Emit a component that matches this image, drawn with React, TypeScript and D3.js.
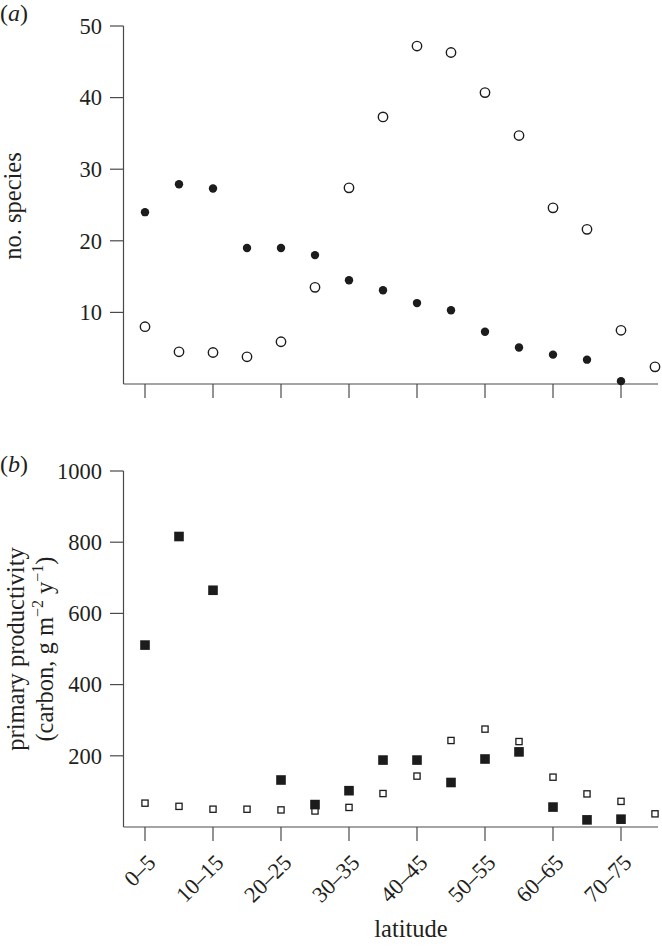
import React from "react";
import * as d3 from "d3";

const latitudes = [
  "0–5", "5–10", "10–15", "15–20", "20–25", "25–30", "30–35", "35–40",
  "40–45", "45–50", "50–55", "55–60", "60–65", "65–70", "70–75", "75–80",
];
const tickedLatitudes = ["0–5", "10–15", "20–25", "30–35", "40–45", "50–55", "60–65", "70–75"];

// panel (a): number of species
const speciesOpen: (number | null)[] = [8, 4.5, 4.4, 3.8, 5.9, 13.5, 27.4, 37.3, 47.2, 46.3, 40.7, 34.7, 24.6, 21.6, 7.5, 2.4];
const speciesFilled: (number | null)[] = [24, 27.9, 27.3, 19, 19, 18, 14.5, 13.1, 11.3, 10.3, 7.3, 5.1, 4.1, 3.4, 0.4, null];
const speciesTicks = [10, 20, 30, 40, 50];

// panel (b): primary productivity
const prodFilled: (number | null)[] = [511, 816, 665, null, 132, 63, 102, 188, 188, 125, 191, 211, 56, 20, 22, null];
const prodOpen: (number | null)[] = [67, 58, 50, 50, 48, 45, 55, 94, 143, 243, 275, 240, 140, 93, 72, 37];
const prodTicks = [200, 400, 600, 800, 1000];

const FONT = "'Liberation Serif', 'Times New Roman', serif";
const TEXT = "#231f20";
const AXIS = "#4a4a4a";
const FS_TICK = 22.5;
const FS_TITLE = 24.5;

export default function App() {
  const x = d3.scalePoint<string>().domain(latitudes).range([145, 655]);
  const yA = d3.scaleLinear().domain([0, 50]).range([384, 26]);
  const yB = d3.scaleLinear().domain([0, 1000]).range([827, 471]);
  const axisLeft = 123.5;
  const axisRight = 658;

  const yAxis = (y: d3.ScaleLinear<number, number>, ticks: number[], key: string) => (
    <g key={key}>
      <line x1={axisLeft} x2={axisLeft} y1={y(y.domain()[1])} y2={y(0)} stroke={AXIS} strokeWidth={1.2} />
      {ticks.map((t) => (
        <g key={t}>
          <line x1={110} x2={axisLeft} y1={y(t)} y2={y(t)} stroke={AXIS} strokeWidth={1.2} />
          <text x={102} y={y(t)} dy="0.35em" textAnchor="end" fontSize={FS_TICK} fill={TEXT} fontFamily={FONT}>
            {t}
          </text>
        </g>
      ))}
      <line x1={axisLeft} x2={axisRight} y1={y(0)} y2={y(0)} stroke={AXIS} strokeWidth={1.2} />
      {tickedLatitudes.map((c) => (
        <line key={c} x1={x(c)} x2={x(c)} y1={y(0)} y2={y(0) + 14} stroke={AXIS} strokeWidth={1.2} />
      ))}
    </g>
  );

  return (
    <svg width={662} height={946} style={{ position: "absolute", left: 0, top: 0, background: "#fff" }}>
      <rect width={662} height={946} fill="#fff" />
      {/* panel (a) */}
      <text x={0} y={21} fontSize={24} fill={TEXT} fontFamily={FONT}>
        (<tspan fontStyle="italic">a</tspan>)
      </text>
      {yAxis(yA, speciesTicks, "a")}
      <text transform={`translate(21,206) rotate(-90)`} textAnchor="middle" fontSize={FS_TITLE} fill={TEXT} fontFamily={FONT}>
        no. species
      </text>
      {latitudes.map((c, i) =>
        speciesFilled[i] == null ? null : (
          <circle key={"f" + c} cx={x(c)} cy={yA(speciesFilled[i] as number)} r={4.2} fill="#1c1c1c" />
        )
      )}
      {latitudes.map((c, i) =>
        speciesOpen[i] == null ? null : (
          <circle key={"o" + c} cx={x(c)} cy={yA(speciesOpen[i] as number)} r={4.7} fill="none" stroke="#1c1c1c" strokeWidth={1.4} />
        )
      )}

      {/* panel (b) */}
      <text x={0} y={472} fontSize={24} fill={TEXT} fontFamily={FONT}>
        (<tspan fontStyle="italic">b</tspan>)
      </text>
      {yAxis(yB, prodTicks, "b")}
      <text transform={`translate(24,649) rotate(-90)`} textAnchor="middle" fontSize={FS_TITLE} fill={TEXT} fontFamily={FONT}>
        primary productivity
      </text>
      <text transform={`translate(53,649) rotate(-90)`} textAnchor="middle" fontSize={FS_TITLE} fill={TEXT} fontFamily={FONT}>
        (carbon, g m<tspan fontSize={16} dy={-10}>−2</tspan>
        <tspan dy={10}> y</tspan>
        <tspan fontSize={16} dy={-10}>−1</tspan>
        <tspan dy={10}>)</tspan>
      </text>
      {latitudes.map((c, i) =>
        prodFilled[i] == null ? null : (
          <rect key={"f" + c} x={(x(c) as number) - 4.8} y={yB(prodFilled[i] as number) - 4.8} width={9.6} height={9.6} fill="#1c1c1c" />
        )
      )}
      {latitudes.map((c, i) =>
        prodOpen[i] == null ? null : (
          <rect key={"o" + c} x={(x(c) as number) - 3.1} y={yB(prodOpen[i] as number) - 3.1} width={6.2} height={6.2} fill="none" stroke="#1c1c1c" strokeWidth={1.3} />
        )
      )}
      {tickedLatitudes.map((c) => (
        <text key={c} transform={`translate(${(x(c) as number) + 12},864) rotate(-45)`} textAnchor="end" fontSize={FS_TICK} fill={TEXT} fontFamily={FONT}>
          {c}
        </text>
      ))}
      <text x={411} y={937} textAnchor="middle" fontSize={FS_TITLE} fill={TEXT} fontFamily={FONT}>
        latitude
      </text>
    </svg>
  );
}
